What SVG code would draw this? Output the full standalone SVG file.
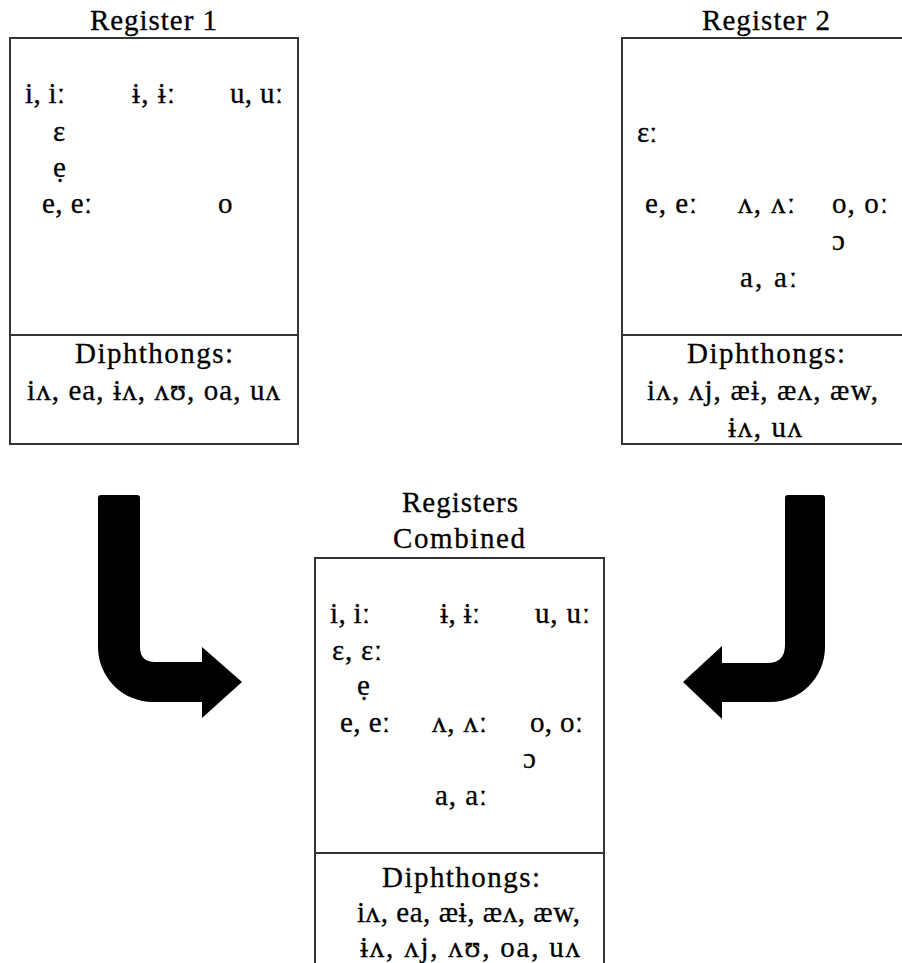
<svg xmlns="http://www.w3.org/2000/svg" width="902" height="963" viewBox="0 0 902 963">
<style>
text{font-family:"Liberation Serif","DejaVu Serif","Noto Serif",serif;font-size:29px;fill:#000;stroke:#000;stroke-width:0.3}
.box{fill:#fff;stroke:#333;stroke-width:2}
.div{stroke:#333;stroke-width:2}
.arrow{fill:#000;stroke:none}
</style>
<rect width="902" height="963" fill="#fff"/>
<g id="register1">
<text x="90" y="30" textLength="127" lengthAdjust="spacing">Register 1</text>
<rect class="box" x="10" y="38" width="288" height="406"/>
<line class="div" x1="10" y1="335" x2="298" y2="335"/>
<text x="25" y="103" textLength="40" lengthAdjust="spacing">i, iː</text>
<text x="132" y="103" textLength="43" lengthAdjust="spacing">ɨ, ɨː</text>
<text x="230" y="103" textLength="53" lengthAdjust="spacing">u, uː</text>
<text x="53" y="141">ɛ</text>
<text x="53" y="177">ẹ</text>
<text x="42" y="213" textLength="50" lengthAdjust="spacing">e, eː</text>
<text x="218" y="213">o</text>
<text x="75" y="363" textLength="158" lengthAdjust="spacing">Diphthongs:</text>
<text x="27" y="400" textLength="253" lengthAdjust="spacing">iʌ, ea, ɨʌ, ʌʊ, oa, uʌ</text>
</g>
<g id="register2">
<text x="702" y="30" textLength="128" lengthAdjust="spacing">Register 2</text>
<rect class="box" x="622" y="38" width="292" height="406"/>
<line class="div" x1="622" y1="335" x2="914" y2="335"/>
<text x="637" y="142">ɛː</text>
<text x="645" y="213" textLength="52" lengthAdjust="spacing">e, eː</text>
<text x="738" y="213" textLength="57" lengthAdjust="spacing">ʌ, ʌː</text>
<text x="832" y="213" textLength="56" lengthAdjust="spacing">o, oː</text>
<text x="832" y="250">ɔ</text>
<text x="740" y="287" textLength="57" lengthAdjust="spacing">a, aː</text>
<text x="687" y="363" textLength="158" lengthAdjust="spacing">Diphthongs:</text>
<text x="647" y="400" textLength="231" lengthAdjust="spacing">iʌ, ʌj, æɨ, æʌ, æw,</text>
<text x="728" y="437" textLength="74" lengthAdjust="spacing">ɨʌ, uʌ</text>
</g>
<g id="combined">
<text x="402" y="512" textLength="116" lengthAdjust="spacing">Registers</text>
<text x="393" y="548" textLength="132" lengthAdjust="spacing">Combined</text>
<rect class="box" x="315" y="558" width="289" height="420"/>
<line class="div" x1="315" y1="853" x2="604" y2="853"/>
<text x="330" y="623" textLength="40" lengthAdjust="spacing">i, iː</text>
<text x="440" y="623" textLength="40" lengthAdjust="spacing">ɨ, ɨː</text>
<text x="535" y="623" textLength="55" lengthAdjust="spacing">u, uː</text>
<text x="332" y="660" textLength="50" lengthAdjust="spacing">ɛ, ɛː</text>
<text x="357" y="695">ẹ</text>
<text x="340" y="732" textLength="50" lengthAdjust="spacing">e, eː</text>
<text x="432" y="732" textLength="55" lengthAdjust="spacing">ʌ, ʌː</text>
<text x="530" y="732" textLength="53" lengthAdjust="spacing">o, oː</text>
<text x="523" y="768">ɔ</text>
<text x="435" y="805" textLength="52" lengthAdjust="spacing">a, aː</text>
<text x="382" y="887" textLength="158" lengthAdjust="spacing">Diphthongs:</text>
<text x="357" y="922" textLength="223" lengthAdjust="spacing">iʌ, ea, æɨ, æʌ, æw,</text>
<text x="360" y="957" textLength="220" lengthAdjust="spacing">ɨʌ, ʌj, ʌʊ, oa, uʌ</text>
</g>
<g id="connectors">
<path class="arrow" d="M98,498 Q98,495 101,495 L137,495 Q140,495 140,498 L140,647 Q140,662 155,662 L202,662 L202,647 L242,682 L202,718 L202,702 L153,702 A55,55 0 0 1 98,647 Z"/>
<path class="arrow" d="M785,498 Q785,495 788,495 L822,495 Q825,495 825,498 L825,647 A55,55 0 0 1 770,702 L722,702 L722,719 L683,682 L722,646 L722,663 L767,663 Q785,663 785,645 Z"/>
</g>
</svg>
